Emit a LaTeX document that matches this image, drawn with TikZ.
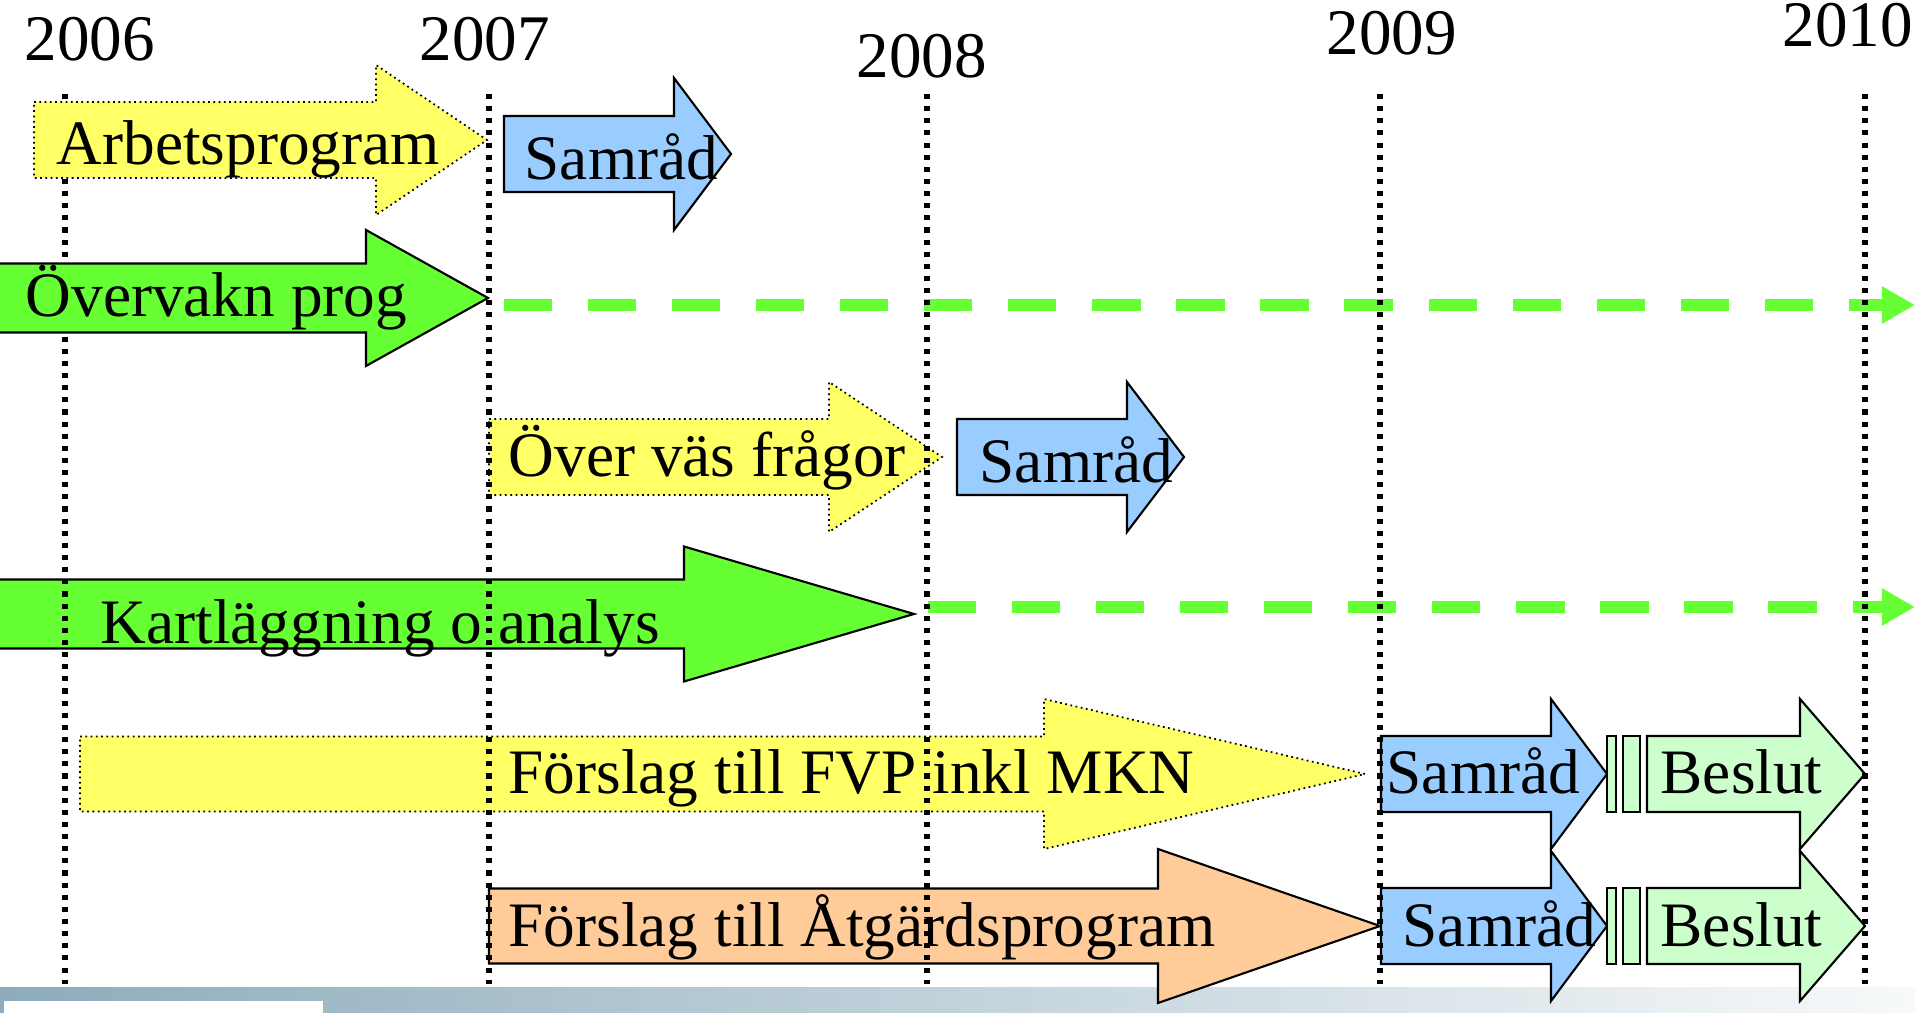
\documentclass[tikz,border=0pt]{standalone}
\usepackage{fontspec}
\setmainfont{Liberation Serif}
\usepackage{tikz}
\usetikzlibrary{arrows.meta}

\definecolor{gul}{HTML}{FFFF66}
\definecolor{bla}{HTML}{99CCFF}
\definecolor{gron}{HTML}{66FF33}
\definecolor{ljusgron}{HTML}{CCFFCC}
\definecolor{orange}{HTML}{FFCC99}
\definecolor{listvanster}{HTML}{8DACBC}
\definecolor{listhoger}{HTML}{F7F9FA}

\tikzset{
  pilgul/.style={fill=gul,draw=black,line width=0.5pt,densely dotted},
  pilbla/.style={fill=bla,draw=black,line width=0.6pt},
  pilgron/.style={fill=gron,draw=black,line width=0.6pt},
  pilljus/.style={fill=ljusgron,draw=black,line width=0.6pt},
  pilorange/.style={fill=orange,draw=black,line width=0.6pt},
  arslinje/.style={line width=1.55pt,dash pattern=on 1.45pt off 2.0pt},
  fortsatt/.style={gron,line width=3.4pt,dash pattern=on 13.7pt off 10.2pt,
    -{Triangle[length=9.4pt,width=10pt]}},
  arstal/.style={font=\fontsize{18.5}{21}\selectfont},
  etikett/.style={font=\fontsize{18}{20}\selectfont}
}

% arrow: style, left x, head x, tip x, centre y, half body, half head
\newcommand{\tidpil}[7]{%
  \draw[#1] (#2,#5-#6) -- (#3,#5-#6) -- (#3,#5-#7) -- (#4,#5)
    -- (#3,#5+#7) -- (#3,#5+#6) -- (#2,#5+#6) -- cycle;}

\begin{document}
\begin{tikzpicture}[x=0.01cm,y=-0.01cm,every node/.style={inner sep=0pt,anchor=base west}]
\useasboundingbox[fill=white] (0,0) rectangle (1915,1013);

% list at the bottom
\shade[left color=listvanster,right color=listhoger] (0,987) rectangle (1915,1013);
\fill[white] (4,1001) rectangle (323,1013);

% lower rows
\tidpil{pilgul}{489}{829}{942}{457}{38}{75}
\tidpil{pilbla}{957}{1127}{1184}{457}{38}{75}
\tidpil{pilgron}{-5}{684}{914}{614}{34.5}{67.5}
\tidpil{pilgul}{80}{1044}{1365}{774}{37.5}{75}
\tidpil{pilbla}{1381}{1551}{1607}{774}{38}{75}
\draw[pilljus] (1607,736) rectangle (1616,812);
\draw[pilljus] (1623,736) rectangle (1640,812);
\tidpil{pilljus}{1647}{1800}{1865}{774}{38}{75}
\tidpil{pilorange}{489}{1158}{1380}{926}{37.5}{77}
\tidpil{pilbla}{1381}{1551}{1607}{926}{38}{75}
\draw[pilljus] (1607,888) rectangle (1616,964);
\draw[pilljus] (1623,888) rectangle (1640,964);
\tidpil{pilljus}{1647}{1800}{1865}{926}{38}{75}

% continuation
\coordinate (ov-a) at (504,305);
\coordinate (ov-b) at (1915,305);
\coordinate (ka-a) at (928,607);
\coordinate (ka-b) at (1915,607);
\draw[fortsatt] (ov-a) -- (ov-b);
\draw[fortsatt] (ka-a) -- (ka-b);

% year lines
\coordinate (t06) at (65,94);   \coordinate (b06) at (65,984);
\coordinate (t07) at (489,94);  \coordinate (b07) at (489,984);
\coordinate (t08) at (927,94);  \coordinate (b08) at (927,984);
\coordinate (t09) at (1380,94); \coordinate (b09) at (1380,984);
\coordinate (t10) at (1865,94); \coordinate (b10) at (1865,984);
\draw[arslinje] (t06) -- (b06);
\draw[arslinje] (t07) -- (b07);
\draw[arslinje] (t08) -- (b08);
\draw[arslinje] (t09) -- (b09);
\draw[arslinje] (t10) -- (b10);

% upper rows
\tidpil{pilgul}{34}{376}{487}{140}{38}{75}
\tidpil{pilbla}{504}{674}{731}{154}{38}{76}
\tidpil{pilgron}{-5}{366}{488}{298}{34.5}{68}

% years
\node[arstal] (y2006) at (24,61) {2006};
\node[arstal] (y2007) at (419,61) {2007};
\node[arstal] (y2008) at (856,78) {2008};
\node[arstal] (y2009) at (1326,55) {2009};
\node[arstal] (y2010) at (1782,47) {2010};

% labels
\node[etikett] (arb) at (56,165) {Arbetsprogram};
\node[etikett] (sam1) at (524,180) {Samråd};
\node[etikett] (overv) at (25,317) {Övervakn prog};
\node[etikett] (overvas) at (508,477) {Över väs frågor};
\node[etikett] (sam2) at (979,483) {Samråd};
\node[etikett] (kart) at (100,644) {Kartläggning o analys};
\node[etikett] (fvp) at (508,794) {Förslag till FVP inkl MKN};
\node[etikett] (sam3) at (1386,794) {Samråd};
\node[etikett] (bes3) at (1660,794) {Beslut};
\node[etikett] (atg) at (508,946) {Förslag till Åtgärdsprogram};
\node[etikett] (sam4) at (1402,946) {Samråd};
\node[etikett] (bes4) at (1660,946) {Beslut};
\end{tikzpicture}
\end{document}
